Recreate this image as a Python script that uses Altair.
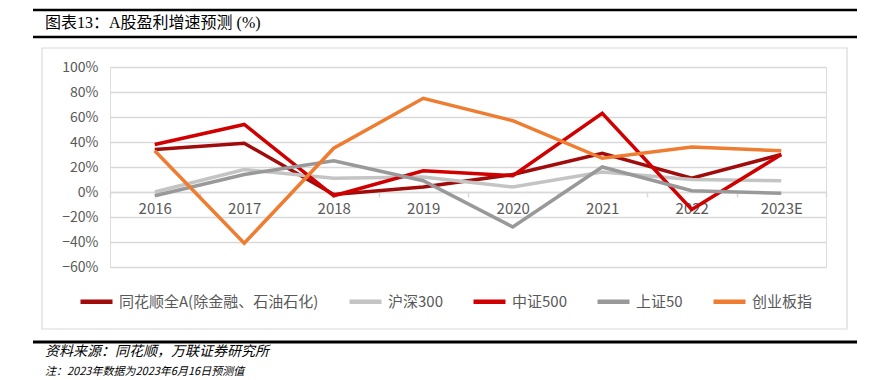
import altair as alt
import pandas as pd

years = ["2016", "2017", "2018", "2019", "2020", "2021", "2022", "2023E"]
series_names = ["同花顺全A(除金融、石油石化)", "沪深300", "中证500", "上证50", "创业板指"]
colors = ["#A00B0B", "#C4C4C4", "#D10000", "#999999", "#EE7D31"]

tonghuashun = [34, 39, -2, 4, 14, 31, 11, 30]
hs300 = [0, 18, 11, 12, 4, 16, 10, 9]
zz500 = [38, 54, -3, 17, 13, 63, -14, 30]
sz50 = [-3, 14, 25, 9, -28, 20, 1, -1]
cyb = [33, -41, 35, 75, 57, 27, 36, 33]

all_series = [tonghuashun, hs300, zz500, sz50, cyb]
rows = []
for name, vals in zip(series_names, all_series):
    for y, v in zip(years, vals):
        rows.append({"year": y, "series": name, "value": v / 100.0})
df = pd.DataFrame(rows)

W, H = 716, 200
FONT = "Noto Sans CJK SC"

lines = alt.Chart(df).mark_line(strokeWidth=3.5, strokeJoin="miter").encode(
    x=alt.X("year:N", sort=years, bandPosition=0.5,
            scale=alt.Scale(type="band", paddingInner=0, paddingOuter=0),
            axis=alt.Axis(title=None, labelAngle=0, offset=-75, grid=False,
                          domain=True, domainColor="#D9D9D9", domainWidth=1.5,
                          ticks=True, tickColor="#D9D9D9", tickSize=5, tickWidth=1.5,
                          tickBand="extent", labelPadding=4,
                          labelFont=FONT, labelFontSize=15, labelColor="#595959")),
    y=alt.Y("value:Q", scale=alt.Scale(domain=[-0.6, 1.0], nice=False),
            axis=alt.Axis(title=None, values=[-0.6, -0.4, -0.2, 0, 0.2, 0.4, 0.6, 0.8, 1.0],
                          format=".0%", grid=True, gridColor="#D9D9D9", gridWidth=1.5,
                          domain=False, ticks=False, labelPadding=12,
                          labelFont=FONT, labelFontSize=14, labelColor="#595959")),
    color=alt.Color("series:N", sort=series_names,
                    scale=alt.Scale(domain=series_names, range=colors),
                    legend=alt.Legend(title=None, orient="none", direction="horizontal",
                                      legendX=-32, legendY=216, symbolType="stroke",
                                      symbolSize=1024, symbolStrokeWidth=4.5,
                                      labelOffset=4, columnPadding=21, padding=0,
                                      labelLimit=400,
                                      labelFont=FONT, labelFontSize=15, labelColor="#595959")),
)

one = alt.Data(values=[{}])

box = alt.Chart(one).mark_rect(fill=None, stroke="#D9D9D9", strokeWidth=1.2).encode(
    x=alt.value(42 - 110), x2=alt.value(847 - 110),
    y=alt.value(48 - 67), y2=alt.value(329 - 67),
)

rule_top = alt.Chart(one).mark_rule(color="black", strokeWidth=2.5).encode(
    x=alt.value(33 - 110), x2=alt.value(857 - 110), y=alt.value(10 - 67))
rule_mid = alt.Chart(one).mark_rule(color="black", strokeWidth=2.5).encode(
    x=alt.value(33 - 110), x2=alt.value(857 - 110), y=alt.value(37 - 67))
rule_bot = alt.Chart(one).mark_rule(color="black", strokeWidth=3).encode(
    x=alt.value(33 - 110), x2=alt.value(857 - 110), y=alt.value(342 - 67))

title = alt.Chart(one).mark_text(
    text="图表13：A股盈利增速预测 (%)", align="left", baseline="middle",
    font="Liberation Serif, Noto Sans CJK SC", fontSize=16, color="black",
).encode(x=alt.value(45 - 110), y=alt.value(23 - 67))

source = alt.Chart(one).mark_text(
    text="资料来源：同花顺，万联证券研究所", align="left", baseline="middle",
    font=FONT, fontSize=14, fontStyle="italic", color="black",
).encode(x=alt.value(45 - 110), y=alt.value(352 - 67))

note = alt.Chart(one).mark_text(
    text="注：2023年数据为2023年6月16日预测值", align="left", baseline="top",
    font=FONT, fontSize=11, fontStyle="italic", color="black",
).encode(x=alt.value(45 - 110), y=alt.value(366 - 67))

chart = alt.layer(box, rule_top, rule_mid, rule_bot, title, source, note, lines).properties(
    width=W, height=H,
    autosize=alt.AutoSizeParams(type="none"),
    padding={"left": 102, "top": 59, "right": 37, "bottom": 113},
).configure_view(stroke=None).configure(background="white")

chart.save("out.html", embed_options={"renderer": "svg", "actions": False})
